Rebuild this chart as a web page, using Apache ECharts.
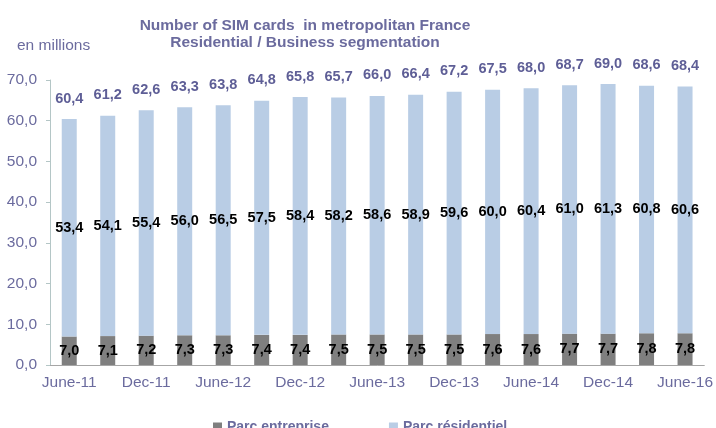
<!doctype html>
<html lang="en">
<head>
    <meta charset="UTF-8">
    <script type="text/javascript" src="https://cdn.jsdelivr.net/npm/echarts@6/dist/echarts.min.js"></script>
    <title>SIM cards</title>
    <style>
        html, body { margin: 0; padding: 0; background: #fff; }
        #main { width: 716px; height: 428px; }
    </style>
</head>
<body>
<div id="main"></div>
<script type="text/javascript">
    // quarters, june-11 .. (last label as on the source)
    var quarters = ['June-11', 'Sep-11', 'Dec-11', 'Mar-12', 'June-12', 'Sep-12', 'Dec-12', 'Mar-13',
        'June-13', 'Sep-13', 'Dec-13', 'Mar-14', 'June-14', 'Sep-14', 'Dec-14', 'Mar-15', 'June-16'];
    var entreprise = [7.0, 7.1, 7.2, 7.3, 7.3, 7.4, 7.4, 7.5, 7.5, 7.5, 7.5, 7.6, 7.6, 7.7, 7.7, 7.8, 7.8];
    var residentiel = [53.4, 54.1, 55.4, 56.0, 56.5, 57.5, 58.4, 58.2, 58.6, 58.9, 59.6, 60.0, 60.4, 61.0, 61.3, 60.8, 60.6];
    var totals = [60.4, 61.2, 62.6, 63.3, 63.8, 64.8, 65.8, 65.7, 66.0, 66.4, 67.2, 67.5, 68.0, 68.7, 69.0, 68.6, 68.4];
    var yTicks = [0, 10, 20, 30, 40, 50, 60, 70];

    var font = 'Liberation Sans, Arial, sans-serif';
    var purple = '#5e5e96';
    var axisText = '#6b6b9e';

    // virgule décimale
    function fr(v) {
        return Number(v).toFixed(1).replace('.', ',');
    }

    var myChart = echarts.init(document.getElementById('main'));
    myChart.setOption({
        animation: false,
        title: {
            text: 'Number of SIM cards  in metropolitan France\nResidential / Business segmentation',
            left: 300,
            top: 12,
            textAlign: 'center',
            textStyle: {fontFamily: font, fontSize: 15.5, fontWeight: 'bold', color: axisText, lineHeight: 17}
        },
        graphic: [{
            type: 'text',
            left: 17,
            top: 38,
            style: {text: 'en millions', font: '15.5px ' + font, fill: axisText}
        }],
        legend: {
            data: ['Parc entreprise', 'Parc résidentiel'],
            left: 208,
            top: 415,
            itemWidth: 9,
            itemHeight: 9,
            itemGap: 60,
            icon: 'rect',
            textStyle: {fontFamily: font, fontSize: 14, fontWeight: 'bold', color: axisText}
        },
        grid: {left: 50, right: 10, top: 80, bottom: 63},
        xAxis: {
            type: 'category',
            data: quarters,
            axisLine: {lineStyle: {color: '#a6a6a6'}},
            axisTick: {interval: 0, length: 5, lineStyle: {color: '#b4c6c6'}},
            axisLabel: {
                interval: 1,
                margin: 10,
                fontFamily: font, fontSize: 15.5, color: axisText
            }
        },
        yAxis: {
            type: 'value',
            min: yTicks[0],
            max: yTicks[yTicks.length - 1],
            interval: 10,
            splitLine: {show: false},
            axisLine: {show: true, lineStyle: {color: '#b4c6c6'}},
            axisTick: {show: true, inside: false, length: 4, lineStyle: {color: '#b4c6c6'}},
            axisLabel: {
                margin: 13,
                fontFamily: font, fontSize: 15.5, color: axisText,
                formatter: function (v) { return fr(v); }
            }
        },
        series: [
            {
                name: 'Parc entreprise',
                type: 'bar',
                stack: 'parc',
                barWidth: 15,
                itemStyle: {color: '#7f7f7f'},
                label: {
                    show: true, position: 'inside',
                    fontFamily: font, fontSize: 14.5, fontWeight: 'bold', color: '#000',
                    formatter: function (p) { return fr(p.value); }
                },
                data: entreprise
            },
            {
                name: 'Parc résidentiel',
                type: 'bar',
                stack: 'parc',
                barWidth: 15,
                itemStyle: {color: '#b9cde5'},
                label: {
                    show: true, position: 'inside',
                    fontFamily: font, fontSize: 14.5, fontWeight: 'bold', color: '#000',
                    formatter: function (p) { return fr(p.value); }
                },
                data: residentiel
            },
            {
                // total au-dessus de la barre
                name: 'total',
                type: 'bar',
                stack: 'parc',
                barWidth: 15,
                itemStyle: {color: 'transparent'},
                label: {
                    show: true, position: 'top', distance: 13,
                    fontFamily: font, fontSize: 14.5, fontWeight: 'bold', color: purple,
                    formatter: function (p) { return fr(totals[p.dataIndex]); }
                },
                data: totals.map(function () { return 0; })
            }
        ]
    });
</script>
</body>
</html>
